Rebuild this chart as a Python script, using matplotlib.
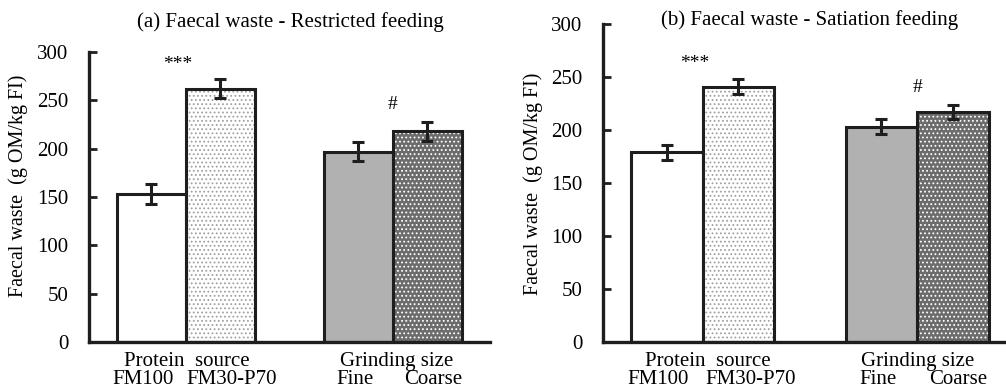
import matplotlib.pyplot as plt
from matplotlib.transforms import blended_transform_factory

plt.rcParams["font.family"] = ["Liberation Serif", "DejaVu Serif"]
plt.rcParams["hatch.linewidth"] = 0.8

# data
bar_labels = ["FM100", "FM30-P70", "Fine", "Coarse"]
group_labels = ["Protein  source", "Grinding size"]
restricted_mean = [153, 262, 197, 218]
restricted_err = [10, 10, 10, 10]
satiation_mean = [179, 241, 203, 217]
satiation_err = [7, 7, 7, 7]
titles = ["(a) Faecal waste - Restricted feeding", "(b) Faecal waste - Satiation feeding"]
signif = ["***", "#"]
signif_a = [287, 246]
signif_b = [263, 240]

positions = [0, 1, 3, 4]
label_shift = [-0.12, 0.17, -0.04, 0.08]
fills = ["white", "white", "#b1b1b1", "#6c6c6c"]
hatches = [None, "....", None, "...."]
hatch_colors = [None, "#a0a0a0", None, "white"]
edge = "#1e1e1e"

fig = plt.figure(figsize=(10.06, 3.90), dpi=100)
ax_a = fig.add_axes([0.0885, 0.123, 0.3986, 0.7436])
ax_b = fig.add_axes([0.5994, 0.123, 0.3996, 0.8154])


def draw_panel(ax, means, errs, title, sig_y, xlim, title_xy, group_x, ylabel_xy):
    for p, m, f, h, hc in zip(positions, means, fills, hatches, hatch_colors):
        if h:
            ax.bar(p, m, width=1.0, color=f, hatch=h, edgecolor=hc, linewidth=0, zorder=2)
        else:
            ax.bar(p, m, width=1.0, color=f, linewidth=0, zorder=2)
    ax.bar(positions, means, width=1.0, fill=False, edgecolor=edge, linewidth=2.2, zorder=3)
    ax.errorbar(positions, means, yerr=errs, fmt="none", ecolor=edge,
                elinewidth=2.2, capsize=4, capthick=2.2, zorder=4)

    ax.set_xlim(*xlim)
    ax.set_ylim(0, 300)
    ax.set_yticks(range(0, 301, 50))
    ax.tick_params(axis="y", direction="in", length=6, width=2, labelsize=15, pad=15,
                   color=edge)
    ax.set_xticks([])
    for s in ["top", "right"]:
        ax.spines[s].set_visible(False)
    for s in ["left", "bottom"]:
        ax.spines[s].set_linewidth(2.4)
        ax.spines[s].set_color(edge)
    ax.set_ylabel("Faecal waste  (g OM/kg FI)", fontsize=14.5)
    ax.yaxis.set_label_coords(*ylabel_xy)

    trans = blended_transform_factory(ax.transData, fig.transFigure)
    for p, s, lab in zip(positions, label_shift, bar_labels):
        ax.text(p + s, 1.5 / 390, lab, transform=trans, fontsize=15,
                ha="center", va="bottom")
    ax.text(group_x[0], 1 - 366 / 390, group_labels[0], transform=trans, fontsize=15,
            ha="center", va="baseline")
    ax.text(group_x[1], 1 - 366 / 390, group_labels[1], transform=trans, fontsize=15,
            ha="center", va="baseline")

    ax.text(0.39, sig_y[0], signif[0], fontsize=14, ha="center", va="center")
    ax.text(3.5, sig_y[1], signif[1], fontsize=14, ha="center", va="center")

    fig.text(title_xy[0], title_xy[1], title, fontsize=15, ha="center", va="center")


draw_panel(ax_a, restricted_mean, restricted_err, titles[0], signif_a,
           (-0.9, 4.91), (290 / 1006, 1 - 22 / 390), (0.51, 3.56), (-0.152, 0.538))
draw_panel(ax_b, satiation_mean, satiation_err, titles[1], signif_b,
           (-0.895, 4.73), (810 / 1006, 1 - 20 / 390), (0.57, 3.51), (-0.149, 0.498))

fig.savefig("out.png", dpi=100)
